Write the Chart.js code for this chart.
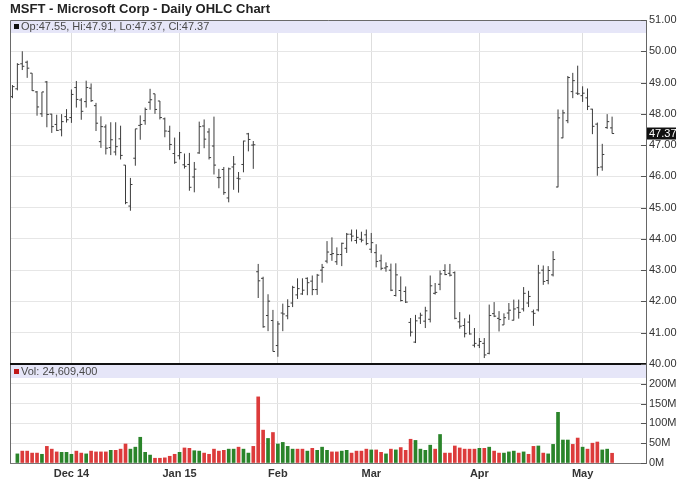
<!DOCTYPE html>
<html>
<head>
<meta charset="utf-8">
<script src="https://cdn.jsdelivr.net/npm/chart.js@4.4.1/dist/chart.umd.min.js"></script>
<style>
html, body { margin: 0; padding: 0; background: #fff; }
#wrap { position: relative; width: 688px; height: 503px; }
#title { position: absolute; left: 10px; top: 1px; font: bold 13px "Liberation Sans", Arial, sans-serif; color: #222; white-space: nowrap; }
canvas { position: absolute; left: 0; top: 0; }
</style>
</head>
<body>
<div id="wrap">
  <canvas id="ohlc-chart" width="688" height="503"></canvas>
  <div id="title">MSFT - Microsoft Corp - Daily OHLC Chart</div>
</div>
<script>
// daily bars, Nov 12 2014 .. May 11 2015 (one entry per trading day)
const opens = [48.55, 48.80, 49.60, 49.65, 49.30, 48.70, 48.00, 49.02, 47.99, 47.66, 47.49, 47.91,
    47.88, 48.84, 48.44, 48.39, 48.82, 48.26, 47.11, 47.58, 46.92, 46.78, 47.20, 46.36, 45.05, 46.58,
    47.63, 47.78, 48.37, 48.64, 48.41, 47.84, 47.44, 46.73,
    46.66, 46.37, 46.38, 45.98, 46.75, 47.61, 47.42, 46.97, 45.96, 46.22, 45.31, 46.30, 45.94, 46.38,
    47.36, 47.00, 42.95, 42.74, 41.55, 41.39,
    40.59, 41.63, 41.54, 41.95, 42.21, 42.24, 42.74, 42.65, 42.38, 43.00, 43.29, 43.50, 43.27, 43.50,
    43.70, 44.15, 43.95, 43.99, 44.13,
    43.67, 43.56, 43.30, 43.07, 43.00, 42.19, 42.35, 42.32, 41.33, 40.70, 41.47, 41.37, 41.43, 42.26,
    42.55, 42.99, 42.90, 42.92, 41.35, 41.23, 41.34, 40.60,
    40.60, 40.66, 40.34, 41.61, 41.46, 41.25, 41.63, 41.40, 41.80, 41.76, 41.95, 41.67, 41.73, 43.00,
    42.67, 42.85, 45.66, 47.23, 47.78, 48.71, 48.66,
    48.58, 48.51, 48.15, 47.67, 46.30, 47.56, 47.55];
const highs = [48.92, 49.62, 50.00, 49.70, 49.30, 48.73, 48.70, 49.05, 48.00, 47.97, 47.99, 48.15,
    48.78, 49.05, 48.50, 49.06, 48.97, 48.35, 47.92, 47.66, 47.73, 47.73, 47.62, 46.36, 45.95, 47.52,
    47.95, 48.20, 48.80, 48.64, 48.41, 47.88, 47.62, 47.24,
    47.42, 46.73, 46.75, 46.46, 47.75, 47.82, 47.54, 47.91, 46.24, 46.30, 46.28, 46.65, 46.14, 47.14,
    47.39, 47.13, 43.20, 42.79, 42.23, 41.73,
    41.37, 41.93, 42.07, 42.50, 42.74, 42.74, 42.77, 42.83, 42.88, 43.20, 43.93, 44.05, 43.73, 43.88,
    44.19, 44.30, 44.30, 44.23, 44.30,
    44.19, 43.83, 43.50, 43.25, 43.21, 43.22, 42.80, 42.48, 41.47, 41.57, 41.64, 41.83, 42.83, 42.59,
    42.99, 43.19, 43.20, 42.96, 41.66, 41.46, 41.58, 41.15,
    40.83, 40.83, 41.90, 41.98, 41.69, 41.62, 41.95, 42.06, 42.06, 42.46, 42.34, 41.74, 43.17, 43.15,
    43.13, 43.61, 48.14, 48.13, 49.21, 49.31, 49.54,
    48.88, 48.81, 48.16, 47.72, 47.04, 47.99, 47.91];
const lows = [48.50, 48.75, 49.40, 49.15, 48.73, 47.94, 47.90, 47.57, 47.39, 47.45, 47.28, 47.72,
    47.71, 48.20, 47.81, 48.20, 48.38, 47.45, 46.91, 46.70, 46.68, 46.67, 46.54, 45.11, 44.90, 46.34,
    47.17, 47.65, 48.13, 48.00, 47.82, 47.25, 46.84, 46.40,
    46.54, 46.25, 45.54, 45.49, 46.72, 46.90, 46.54, 46.06, 45.62, 45.41, 45.17, 45.57, 45.48, 46.13,
    46.80, 46.24, 42.11, 41.16, 41.05, 40.40,
    40.23, 41.05, 41.43, 41.82, 42.08, 42.21, 42.20, 42.20, 42.21, 42.60, 43.22, 43.30, 43.17, 43.13,
    43.55, 43.92, 43.85, 43.89, 43.80,
    43.55, 43.09, 43.00, 42.95, 42.33, 42.16, 42.00, 41.95, 40.88, 40.67, 41.28, 41.15, 41.33, 42.22,
    42.36, 42.84, 42.80, 41.43, 41.13, 40.85, 40.94, 40.53,
    40.51, 40.19, 40.31, 41.50, 41.04, 41.25, 41.41, 41.39, 41.45, 41.68, 41.82, 41.22, 41.68, 42.53,
    42.55, 42.80, 45.65, 47.22, 47.70, 48.50, 48.60,
    48.38, 48.12, 47.35, 46.02, 46.18, 47.52, 47.37];
const closes = [48.87, 49.58, 49.52, 49.46, 48.74, 48.22, 48.70, 47.98, 47.59, 47.47, 47.75, 47.81,
    48.62, 48.46, 48.08, 48.84, 48.42, 47.70, 47.59, 46.90, 47.17, 46.95, 46.67, 45.16, 45.74, 47.52,
    47.66, 48.14, 48.45, 48.14, 47.88, 47.45, 47.02, 46.45,
    46.76, 46.32, 45.65, 46.23, 47.59, 47.19, 46.60, 46.36, 45.96, 45.48, 46.24, 46.39, 45.92, 47.13,
    47.18, 47.01, 42.66, 41.19, 42.01, 40.40,
    41.28, 41.60, 41.84, 42.45, 42.41, 42.36, 42.60, 42.38, 42.84, 43.09, 43.58, 43.53, 43.50, 43.86,
    44.15, 44.09, 44.05, 43.96, 43.85,
    43.88, 43.28, 43.06, 43.11, 42.36, 42.85, 42.03, 41.98, 41.02, 41.38, 41.56, 41.70, 42.50, 42.29,
    42.88, 42.86, 42.84, 41.46, 41.21, 40.97, 40.96, 40.66,
    40.72, 40.29, 41.55, 41.53, 41.42, 41.48, 41.72, 41.76, 41.65, 42.26, 42.16, 41.62, 42.91, 42.64,
    42.99, 43.34, 47.87, 48.03, 49.16, 49.06, 48.64,
    48.66, 48.24, 47.60, 46.28, 46.70, 47.75, 47.37];
// volume in millions of shares
const volumes = [null, 23, 30, 30, 25, 25, 22, 42, 35, 28, 27, 27,
    22, 30, 25, 23, 30, 28, 28, 28, 32, 32, 35, 48, 35, 40,
    65, 27, 20, 12, 12, 13, 17, 22,
    27, 38, 37, 31, 30, 25, 22, 35, 30, 32, 35, 35, 40, 35,
    25, 42, 167, 83, 62, 77,
    48, 52, 42, 35, 35, 35, 30, 37, 32, 40, 32, 28, 28, 30,
    32, 25, 30, 30, 35,
    33, 33, 27, 23, 35, 33, 39, 32, 60, 57, 35, 32, 45, 35,
    72, 25, 25, 43, 38, 35, 35, 35,
    37, 37, 40, 30, 25, 25, 28, 30, 25, 28, 22, 42, 43, 25,
    23, 47, 128, 58, 58, 47, 63,
    40, 35, 50, 53, 33, 35, 24.6094];

// first trading day of each month (bar index) and its label
const monthTicks = [12, 34, 54, 73, 95, 116];
const monthLabels = ['Dec 14', 'Jan 15', 'Feb', 'Mar', 'Apr', 'May'];
const priceTicks = [40, 41, 42, 43, 44, 45, 46, 47, 48, 49, 50, 51];
const volTicks = [0, 50, 100, 150, 200];

const FONT = '"Liberation Sans", Arial, sans-serif';
Chart.defaults.font.family = FONT;

// ohlc bars as line pieces; a null point breaks the line between bars
var hlPts = [], openPts = [], closePts = [];
for (var k = 0; k < closes.length; k++) {
    hlPts.push({x: k, y: lows[k]}, {x: k, y: highs[k]}, {x: k, y: null});
    openPts.push({x: k - 0.42, y: opens[k]}, {x: k, y: opens[k]}, {x: k, y: null});
    closePts.push({x: k, y: closes[k]}, {x: k + 0.42, y: closes[k]}, {x: k, y: null});
}
var volPts = volumes.map((v, i) => ({x: i, y: v}));
var volColors = volumes.map((v, i) => (i > 0 && closes[i] < closes[i - 1]) ? '#dc3b3b' : '#2a842a');

function ohlcLine(pts) {
    return {
        type: 'line', data: pts, yAxisID: 'y', xAxisID: 'x',
        borderColor: '#3c3c3c', borderWidth: 1, pointRadius: 0, spanGaps: false, tension: 0
    };
}

const panelDecor = {
    id: 'panelDecor',
    beforeDatasetsDraw(chart) {
        const {ctx, chartArea} = chart;
        const yP = chart.scales.y, yV = chart.scales.yv;
        const w = chartArea.right - chartArea.left;
        ctx.save();
        ctx.fillStyle = '#e6e6f8';
        ctx.fillRect(chartArea.left, yP.top, w, 13);
        ctx.fillRect(chartArea.left, yV.top + 1, w, 13);
        ctx.restore();
    },
    afterDraw(chart) {
        const {ctx, chartArea} = chart;
        const yP = chart.scales.y, yV = chart.scales.yv;
        const left = chartArea.left, right = chartArea.right;
        const n = closes.length - 1;
        ctx.save();

        // frame
        ctx.strokeStyle = '#6a6a6a';
        ctx.lineWidth = 1;
        ctx.beginPath();
        ctx.moveTo(left + 0.5, chartArea.bottom);
        ctx.lineTo(left + 0.5, chartArea.top + 0.5);
        ctx.lineTo(right, chartArea.top + 0.5);
        ctx.stroke();
        ctx.strokeStyle = '#111';
        ctx.lineWidth = 2;
        ctx.beginPath();
        ctx.moveTo(left, yP.bottom);
        ctx.lineTo(right, yP.bottom);
        ctx.stroke();

        // short inward tick marks on the right axis
        ctx.strokeStyle = '#555';
        ctx.lineWidth = 1;
        ctx.beginPath();
        [[yP, priceTicks], [yV, volTicks]].forEach(function(p) {
            p[1].forEach(function(v) {
                var y = Math.round(p[0].getPixelForValue(v)) + 0.5;
                ctx.moveTo(right - 5, y);
                ctx.lineTo(right, y);
            });
        });
        ctx.stroke();

        // panel headers
        ctx.font = '11px ' + FONT;
        ctx.textBaseline = 'middle';
        ctx.fillStyle = '#111';
        ctx.fillRect(left + 4, yP.top + 4, 5, 5);
        ctx.fillStyle = '#4a4a4a';
        ctx.fillText('Op:' + opens[n].toFixed(2) + ', Hi:' + highs[n].toFixed(2) +
            ', Lo:' + lows[n].toFixed(2) + ', Cl:' + closes[n].toFixed(2), left + 11, yP.top + 7);
        ctx.fillStyle = '#c01818';
        ctx.fillRect(left + 4, yV.top + 5, 5, 5);
        ctx.fillStyle = '#4a4a4a';
        ctx.fillText('Vol: ' + Math.round(volumes[n] * 1e6).toLocaleString('en-US'), left + 11, yV.top + 8);

        // last price marker
        var yl = yP.getPixelForValue(closes[n]);
        ctx.fillStyle = '#111';
        ctx.fillRect(right + 1, yl - 6, 29, 12);
        ctx.fillStyle = '#fff';
        ctx.fillText(closes[n].toFixed(2), right + 3, yl + 0.5);
        ctx.restore();
    }
};

new Chart(document.getElementById('ohlc-chart'), {
    type: 'line',
    data: {
        datasets: [
            ohlcLine(hlPts), ohlcLine(openPts), ohlcLine(closePts),
            {
                type: 'bar', data: volPts, yAxisID: 'yv', xAxisID: 'x',
                backgroundColor: volColors, barThickness: 3, borderWidth: 0
            }
        ]
    },
    options: {
        responsive: false,
        animation: false,
        layout: { padding: { left: 10, top: 20, right: 0, bottom: 0 } },
        plugins: { legend: { display: false }, tooltip: { enabled: false } },
        scales: {
            x: {
                type: 'linear', min: -0.5, max: 128.9, offset: false,
                afterBuildTicks: s => { s.ticks = monthTicks.map(v => ({value: v})); },
                afterFit: s => { s.height = 40; },
                ticks: {
                    autoSkip: false, maxRotation: 0, padding: 4, color: '#333',
                    font: { size: 11, weight: 'bold' },
                    callback: (v, i) => monthLabels[i]
                },
                grid: { color: '#dedede', drawTicks: false, offset: false },
                border: { color: '#777' }
            },
            y: {
                type: 'linear', position: 'right', stack: 'panels', stackWeight: 344, weight: 1,
                min: 40, max: 51,
                afterBuildTicks: s => { s.ticks = priceTicks.map(v => ({value: v})); },
                afterFit: s => { s.width = 42; },
                ticks: { autoSkip: false, padding: 3, color: '#333', font: { size: 11 }, callback: v => v.toFixed(2) },
                grid: { color: '#e6e6e6', drawTicks: false },
                border: { color: '#666' }
            },
            yv: {
                type: 'linear', position: 'right', stack: 'panels', stackWeight: 99, weight: 2,
                min: 0, max: 250,
                afterBuildTicks: s => { s.ticks = volTicks.map(v => ({value: v})); },
                afterFit: s => { s.width = 42; },
                ticks: { autoSkip: false, padding: 3, color: '#333', font: { size: 11 }, callback: v => v + 'M' },
                grid: { color: '#e6e6e6', drawTicks: false },
                border: { color: '#666' }
            }
        }
    },
    plugins: [panelDecor]
});
</script>
</body>
</html>
